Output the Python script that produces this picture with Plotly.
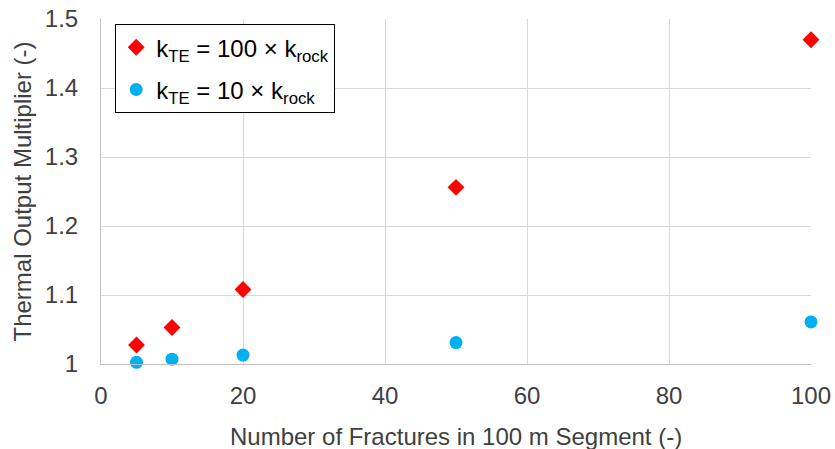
import plotly.graph_objects as go

fractures = [5, 10, 20, 50, 100]
mult_100 = [1.0275, 1.053, 1.108, 1.256, 1.470]
mult_10 = [1.0025, 1.007, 1.013, 1.031, 1.061]
name_100 = "k<sub>TE</sub> = 100 × k<sub>rock</sub>"
name_10 = "k<sub>TE</sub> = 10 × k<sub>rock</sub>"
x_title = "Number of Fractures in 100 m Segment (-)"
y_title = "Thermal Output Multiplier (-)"

FONT = "Liberation Sans, Arial, sans-serif"

fig = go.Figure()
fig.add_trace(go.Scatter(x=fractures, y=mult_100, mode="markers", name=name_100,
                         legendgroup="a",
                         marker=dict(symbol="diamond", size=13, color="#ff0000")))
fig.add_trace(go.Scatter(x=fractures, y=mult_10, mode="markers", name=name_10,
                         legendgroup="b",
                         marker=dict(symbol="circle", size=13, color="#00b0f0")))

fig.update_layout(
    width=835, height=449,
    margin=dict(l=101, r=24, t=19, b=85),
    paper_bgcolor="white", plot_bgcolor="white",
    font=dict(family=FONT, size=24, color="#404040"),
    legend=dict(x=0.02, y=0.985, xanchor="left", yanchor="top",
                bordercolor="black", borderwidth=1, bgcolor="white",
                traceorder="grouped", tracegroupgap=8,
                font=dict(size=24, color="#000000")),
    xaxis=dict(range=[0, 100], tickvals=[0, 20, 40, 60, 80, 100],
               showgrid=True, gridcolor="#d9d9d9", gridwidth=1,
               showline=True, linecolor="#bfbfbf", linewidth=1,
               zeroline=False, ticks="", ticklabelstandoff=10, automargin=False,
               ticklabeloverflow="allow"),
    yaxis=dict(range=[1, 1.5], tickvals=[1, 1.1, 1.2, 1.3, 1.4, 1.5],
               ticktext=["1", "1.1", "1.2", "1.3", "1.4", "1.5"],
               showgrid=True, gridcolor="#d9d9d9", gridwidth=1,
               showline=True, linecolor="#bfbfbf", linewidth=1,
               zeroline=False, ticks="", ticklabelstandoff=17, automargin=False,
               ticklabeloverflow="allow"),
    annotations=[
        dict(text=x_title, xref="paper", yref="paper", x=0.5, y=0,
             xanchor="center", yanchor="middle", yshift=-72, showarrow=False,
             font=dict(size=24, color="#404040")),
        dict(text=y_title, xref="paper", yref="paper", x=0, y=0.5,
             xanchor="center", yanchor="middle", xshift=-79, textangle=-90,
             showarrow=False, font=dict(size=24, color="#404040")),
    ],
)
fig.update_traces(cliponaxis=False)
fig.write_html("out.html", config={"displayModeBar": False},
               post_script="document.body.style.margin='0';document.body.style.overflow='hidden';")
